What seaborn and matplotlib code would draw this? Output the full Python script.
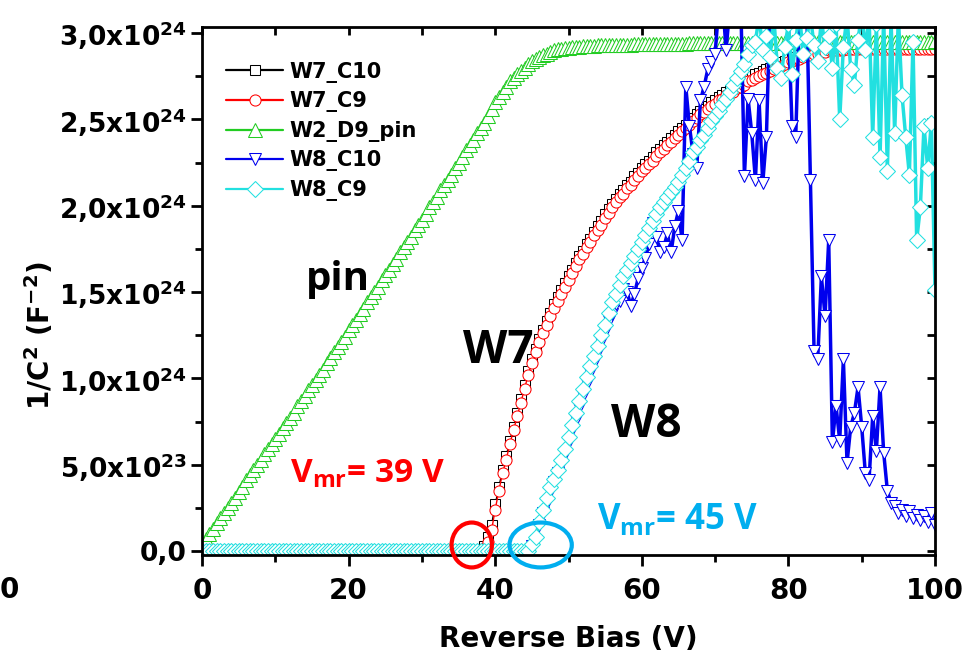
import numpy as np
import matplotlib
matplotlib.use("Agg")
import matplotlib.pyplot as plt
import seaborn as sns
from matplotlib.patches import Ellipse
from matplotlib.ticker import MultipleLocator

# ---------------- data (1/C^2 in units of 1e24 F^-2) ----------------
bias = np.arange(0, 100.5, 0.5)  # reverse bias sweep (V), 0.5 V step

w7_c10 = [
    0.00, 0.00, 0.00, 0.00, 0.00, 0.00, 0.00, 0.00, 0.00, 0.00,
    0.00, 0.00, 0.00, 0.00, 0.00, 0.00, 0.00, 0.00, 0.00, 0.00,
    0.00, 0.00, 0.00, 0.00, 0.00, 0.00, 0.00, 0.00, 0.00, 0.00,
    0.00, 0.00, 0.00, 0.00, 0.00, 0.00, 0.00, 0.00, 0.00, 0.00,
    0.00, 0.00, 0.00, 0.00, 0.00, 0.00, 0.00, 0.00, 0.00, 0.00,
    0.00, 0.00, 0.00, 0.00, 0.00, 0.00, 0.00, 0.00, 0.00, 0.00,
    0.00, 0.00, 0.00, 0.00, 0.00, 0.00, 0.00, 0.00, 0.00, 0.00,
    0.00, 0.00, 0.00, 0.00, 0.00, 0.00, 0.00, 0.03, 0.08, 0.15,
    0.27, 0.37, 0.47, 0.55, 0.64, 0.72, 0.80, 0.88, 0.96, 1.04,
    1.11, 1.17, 1.23, 1.28, 1.33, 1.38, 1.43, 1.47, 1.51, 1.55,
    1.59, 1.63, 1.67, 1.71, 1.74, 1.78, 1.81, 1.85, 1.88, 1.91,
    1.95, 1.98, 2.01, 2.04, 2.07, 2.09, 2.12, 2.14, 2.17, 2.19,
    2.22, 2.24, 2.26, 2.28, 2.31, 2.33, 2.35, 2.37, 2.39, 2.41,
    2.43, 2.45, 2.47, 2.49, 2.51, 2.53, 2.55, 2.56, 2.58, 2.60,
    2.61, 2.63, 2.64, 2.66, 2.67, 2.68, 2.70, 2.71, 2.72, 2.74,
    2.75, 2.76, 2.77, 2.78, 2.79, 2.80, 2.81, 2.82, 2.83, 2.84,
    2.85, 2.86, 2.86, 2.87, 2.87, 2.88, 2.88, 2.89, 2.89, 2.90,
    2.90, 2.91, 2.91, 2.91, 2.91, 2.91, 2.915, 2.915, 2.915, 2.915,
    2.92, 2.92, 2.92, 2.92, 2.92, 2.92, 2.92, 2.92, 2.92, 2.92,
    2.92, 2.92, 2.92, 2.92, 2.92, 2.92, 2.92, 2.92, 2.92, 2.92,
    2.92,
]

w7_c9 = [
    0.00, 0.00, 0.00, 0.00, 0.00, 0.00, 0.00, 0.00, 0.00, 0.00,
    0.00, 0.00, 0.00, 0.00, 0.00, 0.00, 0.00, 0.00, 0.00, 0.00,
    0.00, 0.00, 0.00, 0.00, 0.00, 0.00, 0.00, 0.00, 0.00, 0.00,
    0.00, 0.00, 0.00, 0.00, 0.00, 0.00, 0.00, 0.00, 0.00, 0.00,
    0.00, 0.00, 0.00, 0.00, 0.00, 0.00, 0.00, 0.00, 0.00, 0.00,
    0.00, 0.00, 0.00, 0.00, 0.00, 0.00, 0.00, 0.00, 0.00, 0.00,
    0.00, 0.00, 0.00, 0.00, 0.00, 0.00, 0.00, 0.00, 0.00, 0.00,
    0.00, 0.00, 0.00, 0.00, 0.00, 0.00, 0.00, 0.02, 0.05, 0.12,
    0.24, 0.35, 0.45, 0.53, 0.62, 0.70, 0.78, 0.86, 0.94, 1.02,
    1.09, 1.15, 1.21, 1.26, 1.31, 1.36, 1.41, 1.45, 1.49, 1.53,
    1.57, 1.61, 1.65, 1.69, 1.72, 1.76, 1.79, 1.83, 1.86, 1.89,
    1.93, 1.96, 1.99, 2.02, 2.05, 2.07, 2.10, 2.12, 2.15, 2.17,
    2.20, 2.22, 2.24, 2.26, 2.29, 2.31, 2.33, 2.35, 2.37, 2.39,
    2.41, 2.43, 2.45, 2.47, 2.49, 2.51, 2.53, 2.54, 2.56, 2.58,
    2.59, 2.61, 2.62, 2.64, 2.65, 2.66, 2.68, 2.69, 2.70, 2.72,
    2.73, 2.74, 2.75, 2.76, 2.77, 2.78, 2.79, 2.80, 2.81, 2.82,
    2.83, 2.84, 2.85, 2.85, 2.86, 2.87, 2.87, 2.88, 2.88, 2.89,
    2.89, 2.90, 2.90, 2.90, 2.90, 2.90, 2.905, 2.905, 2.905, 2.905,
    2.91, 2.91, 2.91, 2.91, 2.91, 2.91, 2.91, 2.91, 2.91, 2.91,
    2.91, 2.91, 2.91, 2.91, 2.91, 2.91, 2.91, 2.91, 2.91, 2.91,
    2.91,
]

w2_d9_pin = [
    0.04, 0.07, 0.10, 0.13, 0.16, 0.19, 0.22, 0.25, 0.28, 0.31,
    0.34, 0.37, 0.41, 0.44, 0.47, 0.50, 0.53, 0.56, 0.59, 0.62,
    0.65, 0.68, 0.71, 0.74, 0.77, 0.80, 0.84, 0.87, 0.90, 0.93,
    0.96, 0.99, 1.02, 1.05, 1.09, 1.12, 1.15, 1.18, 1.21, 1.24,
    1.28, 1.31, 1.34, 1.37, 1.40, 1.44, 1.47, 1.50, 1.53, 1.57,
    1.60, 1.63, 1.66, 1.69, 1.73, 1.76, 1.79, 1.82, 1.86, 1.89,
    1.92, 1.95, 1.99, 2.02, 2.05, 2.09, 2.12, 2.15, 2.18, 2.22,
    2.25, 2.28, 2.32, 2.35, 2.38, 2.42, 2.45, 2.48, 2.52, 2.56,
    2.60, 2.63, 2.66, 2.69, 2.72, 2.74, 2.76, 2.78, 2.80, 2.82,
    2.84, 2.85, 2.86, 2.87, 2.88, 2.89, 2.90, 2.905, 2.91, 2.912,
    2.915, 2.917, 2.92, 2.922, 2.924, 2.925, 2.926, 2.927, 2.928, 2.929,
    2.93, 2.93, 2.931, 2.931, 2.932, 2.932, 2.933, 2.933, 2.934, 2.934,
    2.935, 2.935, 2.936, 2.936, 2.937, 2.937, 2.937, 2.938, 2.938, 2.938,
    2.939, 2.939, 2.939, 2.940, 2.940, 2.940, 2.940, 2.941, 2.941, 2.941,
    2.941, 2.942, 2.942, 2.942, 2.942, 2.943, 2.943, 2.943, 2.943, 2.944,
    2.944, 2.944, 2.944, 2.944, 2.945, 2.945, 2.945, 2.945, 2.945, 2.946,
    2.946, 2.946, 2.946, 2.946, 2.946, 2.947, 2.947, 2.947, 2.947, 2.947,
    2.947, 2.948, 2.948, 2.948, 2.948, 2.948, 2.948, 2.949, 2.949, 2.949,
    2.949, 2.949, 2.949, 2.949, 2.950, 2.950, 2.950, 2.950, 2.950, 2.950,
    2.950, 2.950, 2.951, 2.951, 2.951, 2.951, 2.951, 2.951, 2.951, 2.951,
    2.952,
]

w8_c10 = [
    0.00, 0.00, 0.00, 0.00, 0.00, 0.00, 0.00, 0.00, 0.00, 0.00,
    0.00, 0.00, 0.00, 0.00, 0.00, 0.00, 0.00, 0.00, 0.00, 0.00,
    0.00, 0.00, 0.00, 0.00, 0.00, 0.00, 0.00, 0.00, 0.00, 0.00,
    0.00, 0.00, 0.00, 0.00, 0.00, 0.00, 0.00, 0.00, 0.00, 0.00,
    0.00, 0.00, 0.00, 0.00, 0.00, 0.00, 0.00, 0.00, 0.00, 0.00,
    0.00, 0.00, 0.00, 0.00, 0.00, 0.00, 0.00, 0.00, 0.00, 0.00,
    0.00, 0.00, 0.00, 0.00, 0.00, 0.00, 0.00, 0.00, 0.00, 0.00,
    0.00, 0.00, 0.00, 0.00, 0.00, 0.00, 0.00, 0.00, 0.00, 0.00,
    0.00, 0.00, 0.00, 0.00, 0.00, 0.00, 0.00, 0.00, 0.00, 0.00,
    0.03, 0.06, 0.15, 0.22, 0.28, 0.34, 0.40, 0.45, 0.50, 0.56,
    0.63, 0.70, 0.76, 0.83, 0.90, 0.97, 1.03, 1.09, 1.15, 1.21,
    1.27, 1.33, 1.37, 1.43, 1.45, 1.52, 1.50, 1.42, 1.49, 1.58,
    1.64, 1.70, 1.78, 1.90, 1.82, 1.73, 1.76, 1.84, 1.73, 1.88,
    1.97, 1.80, 2.69, 2.46, 2.30, 2.22, 2.61, 2.69, 2.79, 2.83,
    2.88, 3.15, 3.20, 2.90, 3.15, 3.20, 3.10, 3.20, 2.17, 2.62,
    2.42, 2.15, 2.61, 2.13, 2.40, 3.15, 3.20, 3.10, 3.20, 3.15,
    3.05, 2.46, 2.40, 3.10, 3.20, 3.15, 2.15, 1.16, 1.11, 1.59,
    1.36, 1.80, 0.63, 0.84, 0.64, 1.11, 0.51, 0.72, 0.80, 0.95,
    0.72, 0.45, 0.41, 0.78, 0.58, 0.95, 0.57, 0.35, 0.28, 0.26,
    0.22, 0.24, 0.20, 0.23, 0.19, 0.21, 0.18, 0.20, 0.17, 0.22,
    0.15,
]

w8_c9 = [
    0.00, 0.00, 0.00, 0.00, 0.00, 0.00, 0.00, 0.00, 0.00, 0.00,
    0.00, 0.00, 0.00, 0.00, 0.00, 0.00, 0.00, 0.00, 0.00, 0.00,
    0.00, 0.00, 0.00, 0.00, 0.00, 0.00, 0.00, 0.00, 0.00, 0.00,
    0.00, 0.00, 0.00, 0.00, 0.00, 0.00, 0.00, 0.00, 0.00, 0.00,
    0.00, 0.00, 0.00, 0.00, 0.00, 0.00, 0.00, 0.00, 0.00, 0.00,
    0.00, 0.00, 0.00, 0.00, 0.00, 0.00, 0.00, 0.00, 0.00, 0.00,
    0.00, 0.00, 0.00, 0.00, 0.00, 0.00, 0.00, 0.00, 0.00, 0.00,
    0.00, 0.00, 0.00, 0.00, 0.00, 0.00, 0.00, 0.00, 0.00, 0.00,
    0.00, 0.00, 0.00, 0.00, 0.00, 0.00, 0.00, 0.00, 0.00, 0.00,
    0.04, 0.08, 0.17, 0.24, 0.31, 0.37, 0.42, 0.47, 0.53, 0.59,
    0.66, 0.73, 0.80, 0.87, 0.94, 1.01, 1.07, 1.13, 1.19, 1.25,
    1.31, 1.38, 1.44, 1.49, 1.54, 1.59, 1.63, 1.67, 1.71, 1.75,
    1.79, 1.83, 1.87, 1.91, 1.95, 1.99, 2.02, 2.05, 2.08, 2.11,
    2.14, 2.18, 2.22, 2.26, 2.31, 2.34, 2.38, 2.41, 2.45, 2.49,
    2.52, 2.55, 2.59, 2.62, 2.66, 2.70, 2.74, 2.78, 2.82, 2.88,
    2.93, 2.95, 3.10, 2.90, 2.98, 2.86, 3.10, 2.80, 2.74, 2.92,
    3.05, 2.76, 2.96, 3.12, 2.88, 2.97, 3.10, 2.93, 2.84, 3.08,
    2.92, 2.98, 2.80, 3.05, 2.50, 2.92, 3.10, 2.79, 2.70, 2.96,
    3.12, 2.90, 3.10, 2.40, 3.05, 2.28, 3.10, 2.20, 3.08, 2.42,
    3.10, 2.64, 2.40, 2.18, 2.95, 1.80, 1.99, 2.46, 2.22, 2.48,
    1.51,
]

series_names = ["W7_C10", "W7_C9", "W2_D9_pin", "W8_C10", "W8_C9"]
series_values = [w7_c10, w7_c9, w2_d9_pin, w8_c10, w8_c9]

x_ticks = [0, 20, 40, 60, 80, 100]
y_ticks = [0.0, 0.5, 1.0, 1.5, 2.0, 2.5, 3.0]
y_tick_labels = ["0,0",
                 r"5,0x10$^{\mathbf{23}}$",
                 r"1,0x10$^{\mathbf{24}}$",
                 r"1,5x10$^{\mathbf{24}}$",
                 r"2,0x10$^{\mathbf{24}}$",
                 r"2,5x10$^{\mathbf{24}}$",
                 r"3,0x10$^{\mathbf{24}}$"]

for v in series_values:
    assert len(v) == len(bias), len(v)

# ---------------- style ----------------
sns.set_style("ticks")
plt.rcParams["font.family"] = ["DejaVu Sans"]
plt.rcParams["font.weight"] = "bold"
for key in ["text.color", "axes.labelcolor", "xtick.color", "ytick.color",
            "axes.edgecolor"]:
    plt.rcParams[key] = "black"
plt.rcParams["mathtext.fontset"] = "custom"
plt.rcParams["mathtext.rm"] = "Open Sans:bold"
plt.rcParams["mathtext.bf"] = "DejaVu Sans:bold"
plt.rcParams["mathtext.it"] = "DejaVu Sans:italic"
plt.rcParams["mathtext.sf"] = "DejaVu Sans"

styles = [
    dict(marker="s", color="#000000", markersize=7, linewidth=1.0),
    dict(marker="o", color="#FF0000", markersize=8, linewidth=1.0),
    dict(marker="^", color="#22CC22", markersize=10, linewidth=1.0),
    dict(marker="v", color="#0000EE", markersize=9, linewidth=2.5),
    dict(marker="D", color="#22E0E0", markersize=8, linewidth=2.5),
]

fig = plt.figure(figsize=(9.76, 6.57), dpi=100)
W, H = 976, 657
L, R, T, B = 202, 935, 27, 555
ax = fig.add_axes([L / W, (H - B) / H, (R - L) / W, (B - T) / H])

for name, vals, st in zip(series_names, series_values, styles):
    sns.lineplot(x=bias, y=vals, ax=ax, label=name, estimator=None, sort=False,
                 marker=st["marker"], markersize=st["markersize"],
                 color=st["color"], linewidth=st["linewidth"],
                 markerfacecolor="white", markeredgecolor=st["color"],
                 markeredgewidth=0.75)

ax.set_xlim(0, 100)
ax.set_ylim(-0.023, 3.035)
ax.set_xticks(x_ticks)
ax.set_xticklabels([str(t) for t in x_ticks])
ax.xaxis.set_minor_locator(MultipleLocator(10))
ax.set_yticks(y_ticks)
ax.set_yticklabels(y_tick_labels)
ax.yaxis.set_minor_locator(MultipleLocator(0.25))
ax.tick_params(which="major", direction="out", length=8, width=2)
ax.tick_params(which="minor", direction="out", length=5, width=2)
ax.tick_params(axis="x", which="major", labelsize=20, pad=8)
ax.tick_params(axis="y", which="major", labelsize=19, pad=3)
for lab in ax.get_xticklabels() + ax.get_yticklabels():
    lab.set_fontweight("bold")
for sp in ax.spines.values():
    sp.set_linewidth(2)
    sp.set_visible(True)
    sp.set_color("black")

top = ax.secondary_xaxis("top")
top.xaxis.set_major_locator(MultipleLocator(10))
top.tick_params(direction="in", length=6, width=2, labeltop=False)
right = ax.secondary_yaxis("right")
right.yaxis.set_major_locator(MultipleLocator(0.25))
right.tick_params(direction="in", length=6, width=2, labelright=False)

ax.set_xlabel("Reverse Bias (V)", fontsize=20, fontweight="bold", labelpad=14)
ax.set_ylabel(r"1/C$^{\mathbf{2}}$ (F$^{\mathbf{-2}}$)", fontsize=20,
              fontweight="bold")
ax.yaxis.set_label_coords(-0.199, 0.415)

leg = ax.legend(loc="upper left", bbox_to_anchor=(0.022, 0.950), frameon=False,
                prop={"weight": "bold", "size": 15}, handlelength=2.7,
                handletextpad=0.3, labelspacing=0.41, borderaxespad=0)
for ln in leg.get_lines():
    ln.set_linewidth(1.6)

# annotations
ann = dict(family="Open Sans", fontweight="bold")
ax.text(18.5, 1.57, "pin", fontsize=29, ha="center", va="center", color="black", **ann)
ax.text(40.4, 1.16, "W7", fontsize=33, ha="center", va="center", color="black", **ann)
ax.text(60.6, 0.73, "W8", fontsize=33, ha="center", va="center", color="black", **ann)
ax.text(12.0, 0.40, r"V$_{\mathrm{mr}}$= 39 V", fontsize=24, ha="left",
        va="baseline", color="#FF0000", **ann)
ax.text(53.9, 0.13, r"V$_{\mathrm{mr}}$= 45 V", fontsize=25, ha="left",
        va="baseline", color="#00AEEF", **ann)
ax.add_patch(Ellipse((36.8, 0.035), 5.5, 0.26, fill=False, edgecolor="#FF0000",
                     linewidth=3, clip_on=False, zorder=10))
ax.add_patch(Ellipse((46.2, 0.035), 8.5, 0.26, fill=False, edgecolor="#00AEEF",
                     linewidth=3, clip_on=False, zorder=10))

fig.text(0.0, 0.102, "0", fontsize=20, fontweight="bold", ha="left", va="center")

fig.savefig("out.png", dpi=100)
